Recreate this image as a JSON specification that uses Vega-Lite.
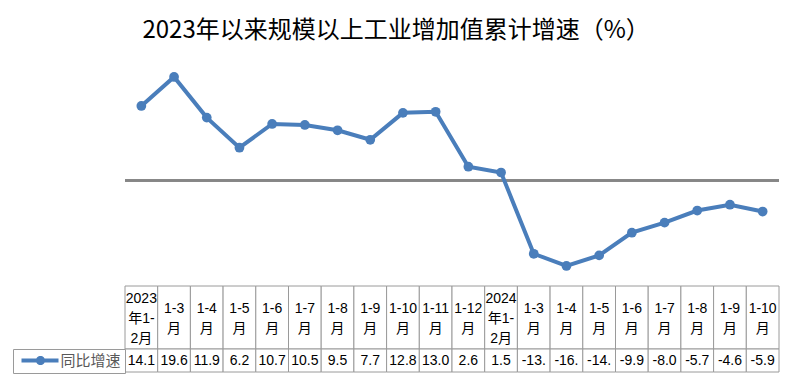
{
  "$schema": "https://vega.github.io/schema/vega-lite/v6.json",
  "background": "white",
  "padding": {"left": 12, "top": 19, "right": 21, "bottom": 10},
  "config": {"view": {"stroke": null}, "font": "Liberation Sans, Noto Sans CJK SC"},
  "title": {"text": "2023年以来规模以上工业增加值累计增速（%）", "font": "Noto Sans CJK SC", "fontSize": 24, "fontWeight": "normal", "color": "#000000", "anchor": "middle", "frame": "bounds", "offset": 16},
  "data": {"values": [
    {"period": "2023年1-2月", "head": "2023\n年1-\n2月", "value": 14.1, "shown": "14.1"},
    {"period": "2023年1-3月", "head": "1-3\n月", "value": 19.6, "shown": "19.6"},
    {"period": "2023年1-4月", "head": "1-4\n月", "value": 11.9, "shown": "11.9"},
    {"period": "2023年1-5月", "head": "1-5\n月", "value": 6.2, "shown": "6.2"},
    {"period": "2023年1-6月", "head": "1-6\n月", "value": 10.7, "shown": "10.7"},
    {"period": "2023年1-7月", "head": "1-7\n月", "value": 10.5, "shown": "10.5"},
    {"period": "2023年1-8月", "head": "1-8\n月", "value": 9.5, "shown": "9.5"},
    {"period": "2023年1-9月", "head": "1-9\n月", "value": 7.7, "shown": "7.7"},
    {"period": "2023年1-10月", "head": "1-10\n月", "value": 12.8, "shown": "12.8"},
    {"period": "2023年1-11月", "head": "1-11\n月", "value": 13.0, "shown": "13.0"},
    {"period": "2023年1-12月", "head": "1-12\n月", "value": 2.6, "shown": "2.6"},
    {"period": "2024年1-2月", "head": "2024\n年1-\n2月", "value": 1.5, "shown": "1.5"},
    {"period": "2024年1-3月", "head": "1-3\n月", "value": -13.9, "shown": "-13."},
    {"period": "2024年1-4月", "head": "1-4\n月", "value": -16.2, "shown": "-16."},
    {"period": "2024年1-5月", "head": "1-5\n月", "value": -14.2, "shown": "-14."},
    {"period": "2024年1-6月", "head": "1-6\n月", "value": -9.9, "shown": "-9.9"},
    {"period": "2024年1-7月", "head": "1-7\n月", "value": -8.0, "shown": "-8.0"},
    {"period": "2024年1-8月", "head": "1-8\n月", "value": -5.7, "shown": "-5.7"},
    {"period": "2024年1-9月", "head": "1-9\n月", "value": -4.6, "shown": "-4.6"},
    {"period": "2024年1-10月", "head": "1-10\n月", "value": -5.9, "shown": "-5.9"}
  ]},
  "spacing": 0,
  "bounds": "flush",
  "resolve": {"scale": {"color": "independent"}, "legend": {"color": "independent"}},
  "vconcat": [
    {
      "width": 654,
      "height": 227,
      "layer": [
        {
          "mark": {"type": "rule", "color": "#868686", "strokeWidth": 1.5},
          "encoding": {"y": {"datum": 0, "type": "quantitative", "scale": {"domain": [-20, 23], "nice": false}, "axis": null}}
        },
        {
          "mark": {"type": "line", "color": "#4A7EBB", "strokeWidth": 4, "point": {"filled": true, "size": 95, "color": "#4A7EBB"}},
          "encoding": {
            "x": {"field": "period", "type": "ordinal", "sort": null, "axis": null},
            "y": {"field": "value", "type": "quantitative", "scale": {"domain": [-20, 23], "nice": false}, "axis": null}
          }
        }
      ]
    },
    {
      "width": 654,
      "height": 63,
      "layer": [
        {
          "mark": {"type": "rect", "fill": "white", "stroke": "#9a9a9a", "strokeWidth": 1},
          "encoding": {"x": {"field": "period", "type": "nominal", "sort": null, "axis": null, "scale": {"type": "band", "paddingInner": 0, "paddingOuter": 0}}}
        },
        {
          "transform": [{"filter": "indexof(datum.head, '年') < 0"}],
          "mark": {"type": "text", "lineBreak": "\n", "fontSize": 14, "lineHeight": 19.5, "baseline": "middle", "dy": -8.5, "color": "#000000"},
          "encoding": {
            "x": {"field": "period", "type": "nominal", "sort": null, "axis": null, "scale": {"type": "band", "paddingInner": 0, "paddingOuter": 0}},
            "text": {"field": "head"}
          }
        },
        {
          "transform": [{"filter": "indexof(datum.head, '年') >= 0"}],
          "mark": {"type": "text", "lineBreak": "\n", "fontSize": 14, "lineHeight": 20, "baseline": "middle", "dy": -18.5, "color": "#000000"},
          "encoding": {
            "x": {"field": "period", "type": "nominal", "sort": null, "axis": null, "scale": {"type": "band", "paddingInner": 0, "paddingOuter": 0}},
            "text": {"field": "head"}
          }
        }
      ]
    },
    {
      "width": 654,
      "height": 23,
      "layer": [
        {
          "mark": {"type": "rect", "fill": "white", "stroke": "#9a9a9a", "strokeWidth": 1},
          "encoding": {"x": {"field": "period", "type": "nominal", "sort": null, "axis": null, "scale": {"type": "band", "paddingInner": 0, "paddingOuter": 0}}}
        },
        {
          "mark": {"type": "text", "fontSize": 14, "baseline": "middle", "color": "#000000"},
          "encoding": {
            "x": {"field": "period", "type": "nominal", "sort": null, "axis": null, "scale": {"type": "band", "paddingInner": 0, "paddingOuter": 0}},
            "text": {"field": "shown"}
          }
        },
        {
          "transform": [{"filter": "false"}],
          "mark": {"type": "point", "filled": true},
          "encoding": {
            "color": {
              "datum": "同比增速",
              "type": "nominal",
              "scale": {"domain": ["同比增速"], "range": ["#4A7EBB"]},
              "legend": {
                "orient": "left", "offset": 0, "title": null,
                "padding": 4, "strokeColor": "#9a9a9a", "fillColor": "white",
                "symbolType": "M-0.6,-0.4H6.8V0.4H-0.6Z M4.12,0A0.92,0.92 0 1 1 2.28,0A0.92,0.92 0 1 1 4.12,0Z",
                "symbolSize": 100, "symbolStrokeWidth": 0, "symbolOpacity": 1,
                "labelFont": "Noto Sans CJK SC", "labelFontSize": 15, "labelColor": "#595959", "labelOffset": 28.5
              }
            }
          }
        }
      ]
    }
  ]
}
